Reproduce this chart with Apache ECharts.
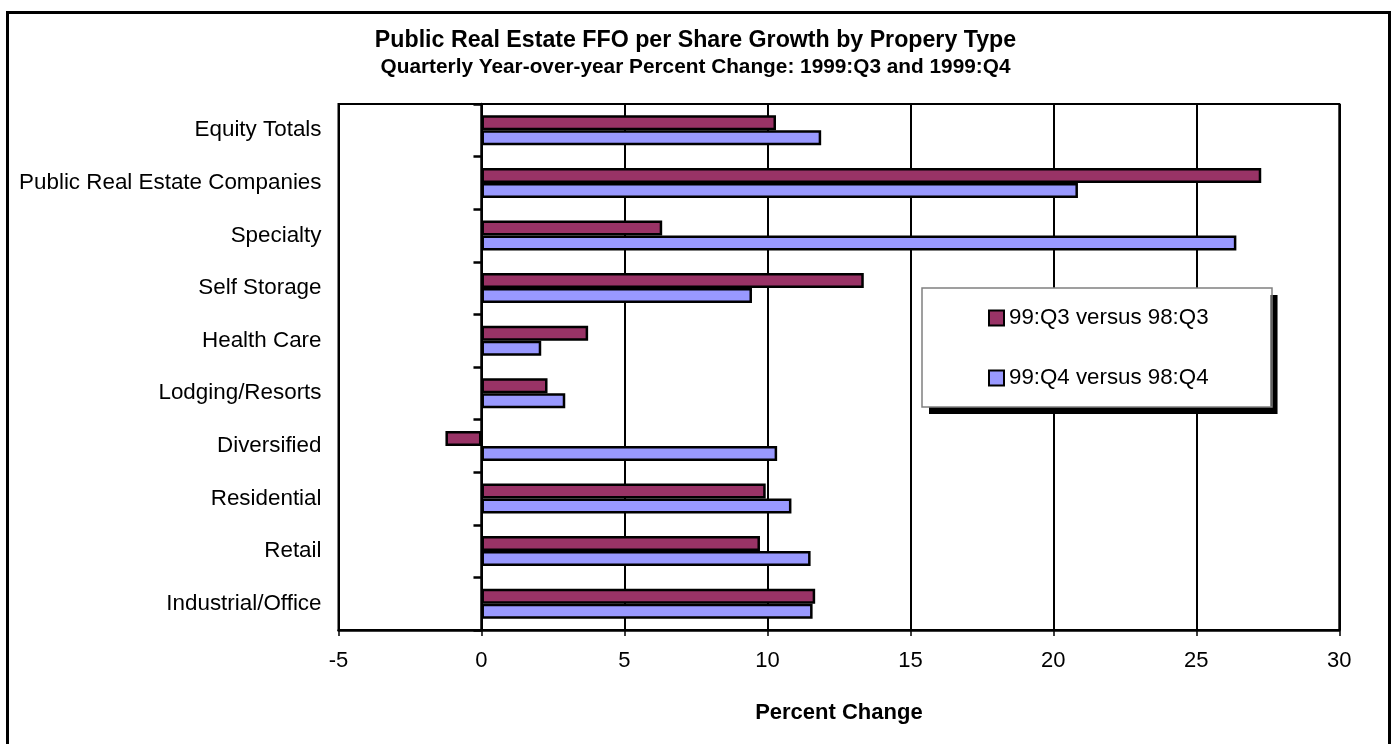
<!DOCTYPE html>
<html>
<head>
<meta charset="utf-8">
<script src="https://cdn.jsdelivr.net/npm/echarts@6/dist/echarts.min.js"></script>
<style>
  html, body { margin: 0; padding: 0; background: #fff; }
  #frame {
    position: absolute; left: 6px; top: 11px; width: 1379px; height: 800px;
    border: 3px solid #000; box-sizing: content-box;
  }
  #chart { position: absolute; left: 0; top: 0; width: 1391px; height: 744px; }
</style>
</head>
<body>
<div id="frame"></div>
<div id="chart"></div>
<script>
const categories = [
  'Equity Totals', 'Public Real Estate Companies', 'Specialty', 'Self Storage', 'Health Care',
  'Lodging/Resorts', 'Diversified', 'Residential', 'Retail', 'Industrial/Office'
]
const q3Values = [10.3, 27.27, 6.32, 13.37, 3.73, 2.31, -1.26, 9.94, 9.74, 11.67]
const q4Values = [11.88, 20.86, 26.4, 9.46, 2.09, 2.93, 10.34, 10.84, 11.51, 11.58]
const q3Name = '99:Q3 versus 98:Q3'
const q4Name = '99:Q4 versus 98:Q4'
const xTicks = { min: -5, max: 30, interval: 5 }

const font = 'Liberation Sans, Arial, sans-serif'

const chart = echarts.init(document.getElementById('chart'), null, { renderer: 'canvas' })
chart.setOption({
  animation: false,
  backgroundColor: 'transparent',
  textStyle: { fontFamily: font, color: '#000' },
  title: {
    text: 'Public Real Estate FFO per Share Growth by Propery Type',
    subtext: 'Quarterly Year-over-year Percent Change: 1999:Q3 and 1999:Q4',
    left: 'center',
    top: 24,
    itemGap: 4.5,
    textStyle: { fontSize: 23.2, fontWeight: 'bold', color: '#000', fontFamily: font },
    subtextStyle: { fontSize: 20.8, fontWeight: 'bold', color: '#000', fontFamily: font }
  },
  legend: {
    orient: 'vertical',
    left: 922,
    top: 288,
    padding: [19, 62, 18, 66],
    itemGap: 38,
    itemWidth: 15,
    itemHeight: 15,
    backgroundColor: '#fff',
    borderWidth: 0,
    shadowColor: '#000',
    shadowBlur: 0,
    shadowOffsetX: 7,
    shadowOffsetY: 7,
    icon: 'rect',
    itemStyle: { borderColor: '#000', borderWidth: 2 },
    textStyle: { fontSize: 22.3, color: '#000', fontFamily: font },
    data: [q3Name, q4Name]
  },
  graphic: [
    {
      type: 'rect',
      z: 100,
      shape: { x: 922, y: 288, width: 350, height: 119 },
      style: { fill: null, stroke: '#808080', lineWidth: 1.5 }
    }
  ],
  grid: {
    left: 338.5,
    right: 51.7,
    top: 104,
    bottom: 114,
    show: true,
    borderColor: '#000',
    borderWidth: 2,
    backgroundColor: '#fff'
  },
  xAxis: {
    type: 'value',
    min: xTicks.min,
    max: xTicks.max,
    interval: xTicks.interval,
    name: 'Percent Change',
    nameLocation: 'middle',
    nameGap: 72,
    nameTextStyle: { fontSize: 22, fontWeight: 'bold', color: '#000', fontFamily: font },
    axisLine: { show: true, lineStyle: { color: '#000', width: 2.5 } },
    axisTick: { show: true, length: 6, lineStyle: { color: '#000', width: 1.5 } },
    axisLabel: { fontSize: 22, color: '#000', margin: 20, fontFamily: font },
    splitLine: { show: true, lineStyle: { color: '#000', width: 2 } }
  },
  yAxis: [
    {
      type: 'category',
      data: categories,
      inverse: true,
      axisLine: { show: true, onZero: true, lineStyle: { color: '#000', width: 2.5 } },
      axisTick: { show: true, inside: false, length: 8, lineStyle: { color: '#000', width: 2.5 } },
      axisLabel: { show: false },
      splitLine: { show: false }
    },
    {
      type: 'category',
      data: categories,
      inverse: true,
      position: 'left',
      axisLine: { show: false, onZero: false },
      axisTick: { show: false },
      axisLabel: { fontSize: 22.4, color: '#000', margin: 17, fontFamily: font },
      splitLine: { show: false }
    }
  ],
  series: [
    {
      name: q3Name,
      type: 'bar',
      yAxisIndex: 0,
      data: q3Values,
      barWidth: 15,
      barGap: '0%',
      itemStyle: { color: '#993366', borderColor: '#000', borderWidth: 2.5 }
    },
    {
      name: q4Name,
      type: 'bar',
      yAxisIndex: 0,
      data: q4Values,
      barWidth: 15,
      barGap: '0%',
      itemStyle: { color: '#9999FF', borderColor: '#000', borderWidth: 2.5 }
    }
  ]
})
</script>
</body>
</html>
